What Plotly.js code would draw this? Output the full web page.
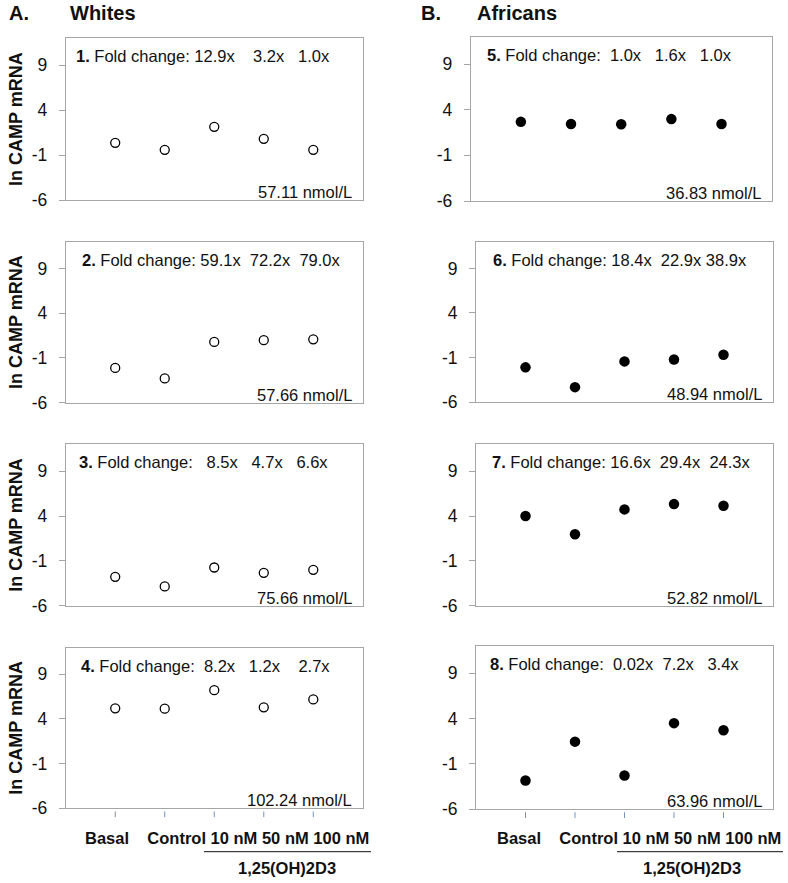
<!DOCTYPE html>
<html><head><meta charset="utf-8">
<script src="https://cdn.plot.ly/plotly-3.0.1.min.js"></script>
<style>html,body{margin:0;padding:0;background:#fff}</style>
</head><body><div id="chart" style="width:788px;height:883px"></div>
<script>
// ---- data ----
const categories = ["Basal", "Control", "10 nM", "50 nM", "100 nM"];
const groupLabel = "1,25(OH)2D3";
const yTickVals = [-6, -1, 4, 9];
const columnHeaders = [["A.", "Whites"], ["B.", "Africans"]];
const yTitle = "ln CAMP mRNA";

const white1 = [0.37, -0.41, 2.15, 0.81, -0.41];
const white2 = [-2.11, -3.29, 0.79, 0.99, 1.08];
const white3 = [-2.78, -3.85, -1.74, -2.33, -2.0];
const white4 = [5.19, 5.15, 7.22, 5.3, 6.19];
const african5 = [2.67, 2.44, 2.41, 2.97, 2.44];
const african6 = [-2.11, -4.33, -1.44, -1.22, -0.7];
const african7 = [4.0, 1.96, 4.74, 5.33, 5.15];
const african8 = [-2.86, 1.44, -2.3, 3.48, 2.7];

const fold1 = ["12.9", "3.2", "1.0"];
const fold2 = ["59.1", "72.2", "79.0"];
const fold3 = ["8.5", "4.7", "6.6"];
const fold4 = ["8.2", "1.2", "2.7"];
const fold5 = ["1.0", "1.6", "1.0"];
const fold6 = ["18.4", "22.9", "38.9"];
const fold7 = ["16.6", "29.4", "24.3"];
const fold8 = ["0.02", "7.2", "3.4"];

const vitD = ["57.11", "57.66", "75.66", "102.24", "36.83", "48.94", "52.82", "63.96"];

const panelValues = [white1, white2, white3, white4, african5, african6, african7, african8];
const panelFolds = [fold1, fold2, fold3, fold4, fold5, fold6, fold7, fold8];

// ---- layout / style ----
const W = 788, H = 883;
const FONT = "Liberation Sans, Arial, Helvetica, sans-serif";
const xDomPx = [[65.7, 362.8], [65.7, 362.8], [65.7, 362.8], [65.7, 362.8],
                [470.7, 771.7], [476, 773], [476, 773], [476, 773]];
const yDomPx = [[38.3, 200], [241.7, 402.7], [444.3, 605.7], [647.5, 808.3],
                [36.7, 201], [241.7, 402], [444.3, 605.7], [646, 809]];
const foldGaps = [[1, 4, 3], [1, 2, 2], [3, 3, 3], [2, 3, 4], [2, 3, 3], [1, 2, 1], [1, 2, 2], [2, 2, 3]];
const foldShift = [8, 14, 11, 13, 14, 15, 14, 12];

const sp = n => "\u00a0".repeat(n);
const data = [];
const layout = {
  width: W, height: H,
  margin: {l: 0, r: 0, t: 0, b: 0},
  paper_bgcolor: "#fff", plot_bgcolor: "#fff",
  showlegend: false,
  font: {family: FONT, color: "#111", size: 16},
  annotations: [], shapes: []
};

panelValues.forEach((vals, i) => {
  const k = i === 0 ? "" : String(i + 1);
  const isWhite = i < 4;
  data.push({
    type: "scatter", mode: "markers",
    x: categories.map((c, j) => j), y: vals,
    xaxis: "x" + k, yaxis: "y" + k,
    marker: isWhite
      ? {symbol: "circle-open", size: 9, color: "#000", line: {width: 1.3, color: "#000"}}
      : {symbol: "circle", size: 10.5, color: "#000"},
    hoverinfo: "y"
  });
  layout["xaxis" + k] = {
    domain: [xDomPx[i][0] / W, xDomPx[i][1] / W],
    anchor: "y" + k, range: [-1, 5],
    showgrid: false, zeroline: false, showticklabels: false, ticks: "",
    showline: true, mirror: true, linecolor: "#a6a6a6", linewidth: 1, fixedrange: true
  };
  const ya = {
    domain: [1 - yDomPx[i][1] / H, 1 - yDomPx[i][0] / H],
    anchor: "x" + k, range: [-6, 12],
    tickvals: yTickVals, ticktext: yTickVals.map(String),
    ticks: "outside", ticklen: 6, tickcolor: "#a6a6a6", tickwidth: 1,
    ticklabelstandoff: 8,
    tickfont: {family: FONT, size: 17.5, color: "#111"},
    showgrid: false, zeroline: false,
    showline: true, mirror: true, linecolor: "#a6a6a6", linewidth: 1, fixedrange: true
  };
  if (isWhite) {
    ya.title = {text: yTitle, font: {family: FONT, size: 18, weight: "bold", color: "#111"}, standoff: 4};
  }
  layout["yaxis" + k] = ya;

  const f = panelFolds[i], g = foldGaps[i];
  layout.annotations.push({
    xref: "x" + k + " domain", yref: "y" + k + " domain", x: 0, y: 1,
    xanchor: "left", yanchor: "middle", xshift: foldShift[i], yshift: -18,
    showarrow: false, font: {family: FONT, size: 16.5, color: "#111"},
    text: "<b>" + (i + 1) + ".</b> Fold change:" + sp(g[0]) + f[0] + "x" + sp(g[1]) + f[1] + "x" + sp(g[2]) + f[2] + "x"
  });
  layout.annotations.push({
    xref: "x" + k + " domain", yref: "y" + k + " domain", x: 1, y: 0,
    xanchor: "right", yanchor: "middle", xshift: -9, yshift: 8,
    showarrow: false, font: {family: FONT, size: 16.5, color: "#111"},
    text: vitD[i] + " nmol/L"
  });

  if (i === 3 || i === 7) {
    categories.forEach((c, j) => {
      layout.shapes.push({
        type: "line", xref: "x" + k, yref: "y" + k + " domain",
        x0: j, x1: j, y0: -0.02, y1: -0.055,
        line: {color: j === 0 ? "#8c8c8c" : "#6f93c4", width: 1}
      });
    });
  }
});

// column headers
[[7, 68], [419, 475]].forEach((xs, c) => {
  columnHeaders[c].forEach((t, m) => {
    layout.annotations.push({
      xref: "paper", yref: "paper", x: xs[m] / W, y: 1 - 13 / H,
      xanchor: "left", yanchor: "middle", showarrow: false,
      font: {family: FONT, size: 20, weight: "bold", color: "#111"}, text: t
    });
  });
});

// category labels and treatment bracket below each column
[[83, 204, 371, 287], [495, 617, 783, 691.5]].forEach(p => {
  layout.annotations.push({
    xref: "paper", yref: "paper", x: p[0] / W, y: 1 - 837.5 / H,
    xanchor: "left", yanchor: "middle", showarrow: false,
    font: {family: FONT, size: 16.5, weight: "bold", color: "#111"},
    text: categories[0] + sp(4) + categories.slice(1).join(" ")
  });
  layout.shapes.push({
    type: "line", xref: "paper", yref: "paper",
    x0: p[1] / W, x1: p[2] / W, y0: 1 - 851.7 / H, y1: 1 - 851.7 / H,
    line: {color: "#111", width: 1}
  });
  layout.annotations.push({
    xref: "paper", yref: "paper", x: p[3] / W, y: 1 - 868 / H,
    xanchor: "center", yanchor: "middle", showarrow: false,
    font: {family: FONT, size: 16.5, weight: "bold", color: "#111"},
    text: groupLabel
  });
});

Plotly.newPlot("chart", data, layout, {displayModeBar: false, staticPlot: true});
</script>
</body></html>
